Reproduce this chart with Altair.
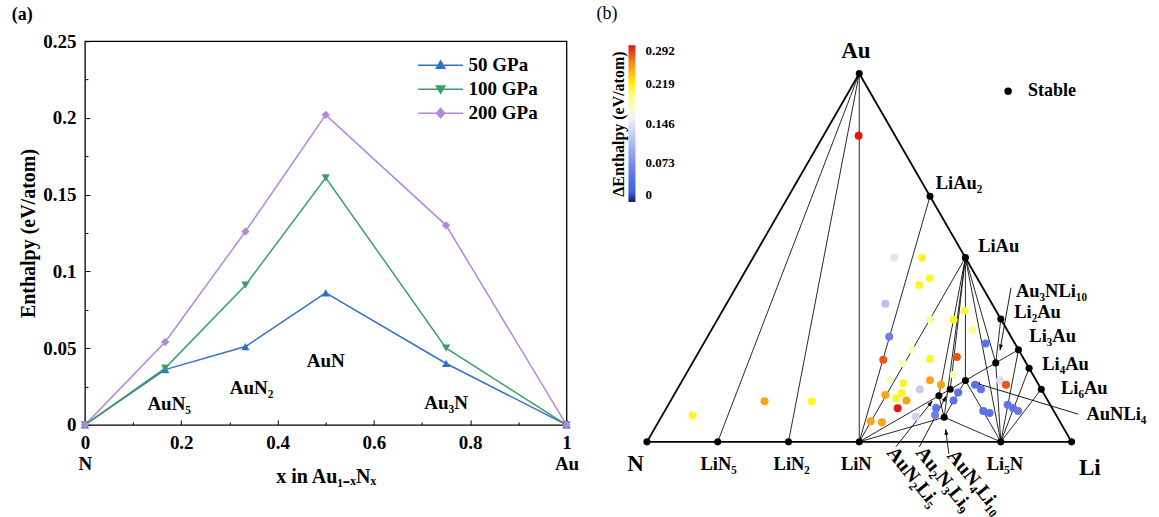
import math
import altair as alt
import pandas as pd

FONT = "Liberation Serif"

# ======================= panel (a) data =======================
comp_x = [0.0, 1 / 6, 1 / 3, 0.5, 0.75, 1.0]
h_50 = [0.0, 0.036, 0.051, 0.086, 0.040, 0.0]
h_100 = [0.0, 0.037, 0.091, 0.161, 0.050, 0.0]
h_200 = [0.0, 0.054, 0.126, 0.202, 0.130, 0.0]
series_names = ["\u200750 GPa", "100 GPa", "200 GPa"]
series_colors = ["#3470c8", "#3c9e6c", "#b487dd"]
series_shapes = ["triangle-up", "triangle-down", "diamond"]
legend_paths = [
    "M-2.25,0L2.25,0M0,-0.42L0.42,0.32L-0.42,0.32Z",
    "M-2.25,0L2.25,0M0,0.42L0.42,-0.32L-0.42,-0.32Z",
    "M-2.25,0L2.25,0M0,-0.48L0.4,0L0,0.48L-0.4,0Z",
]
phase_a_names = ["AuN₅", "AuN₂", "AuN", "Au₃N"]
phase_a_x = [0.175, 0.346, 0.50, 0.75]
phase_a_y = [0.0135, 0.0243, 0.0417, 0.0145]
x_ticks = [0, 0.2, 0.4, 0.6, 0.8, 1]
x_minor = [0.1, 0.3, 0.5, 0.7, 0.9]
y_ticks = [0, 0.05, 0.1, 0.15, 0.2, 0.25]
y_minor = [0.025, 0.075, 0.125, 0.175, 0.225]

# ======================= panel (b) data =======================
# stable phases: atoms of Au, N, Li
st_names = ["Au", "N", "Li", "LiN5", "LiN2", "LiN", "Li5N", "LiAu2", "LiAu",
            "Li2Au", "Li3Au", "Li4Au", "Li6Au", "Au3NLi10", "AuNLi4",
            "AuN2Li5", "Au2N3Li9", "AuN4Li10"]
st_au = [1, 0, 0, 0, 0, 0, 0, 2, 1, 1, 1, 1, 1, 3, 1, 1, 2, 1]
st_n = [0, 1, 0, 5, 2, 1, 1, 0, 0, 0, 0, 0, 0, 1, 1, 2, 3, 4]
st_li = [0, 0, 1, 1, 1, 1, 5, 1, 1, 2, 3, 4, 6, 10, 4, 5, 9, 10]

edges = [("N", "Li"), ("N", "Au"), ("Au", "Li")]
ties = [("Au", "LiN5"), ("Au", "LiN2"), ("Au", "LiN"),
        ("LiN", "LiAu2"), ("LiN", "LiAu"), ("LiN", "Li3Au"), ("LiN", "AuN4Li10"),
        ("LiAu", "AuN2Li5"), ("LiAu", "Au2N3Li9"), ("LiAu", "AuN4Li10"),
        ("LiAu", "AuNLi4"), ("LiAu", "Au3NLi10"), ("LiAu", "Li5N"),
        ("Li2Au", "Au3NLi10"), ("AuN2Li5", "AuN4Li10"), ("AuN4Li10", "AuNLi4"),
        ("AuN4Li10", "Li5N"), ("AuNLi4", "Li5N"), ("Au3NLi10", "Li5N"),
        ("Li3Au", "Li5N"), ("Li4Au", "Li5N"), ("Li6Au", "Li5N")]

# metastable structures: Au fraction, Li fraction, formation enthalpy above hull
sc_au = [0.500, 0.500, 0.444, 0.426, 0.375, 0.356, 0.332, 0.332, 0.304, 0.285,
         0.267, 0.250, 0.223, 0.225, 0.230, 0.214, 0.182, 0.159, 0.167, 0.155,
         0.143, 0.132, 0.127, 0.118, 0.112, 0.091, 0.068, 0.056, 0.053, 0.134,
         0.112, 0.092, 0.073, 0.155, 0.143, 0.167, 0.155, 0.084, 0.078, 0.101,
         0.092, 0.084, 0.169, 0.0714, 0.110, 0.110, 0.831]
sc_li = [0.332, 0.398, 0.444, 0.428, 0.374, 0.570, 0.501, 0.556, 0.615, 0.428,
         0.664, 0.499, 0.445, 0.554, 0.615, 0.495, 0.632, 0.524, 0.583, 0.615,
         0.571, 0.534, 0.498, 0.528, 0.555, 0.545, 0.599, 0.499, 0.527, 0.666,
         0.666, 0.635, 0.642, 0.695, 0.715, 0.748, 0.768, 0.750, 0.768, 0.799,
         0.816, 0.832, 0.488, 0.072, 0.222, 0.333, 0.083]
sc_dh = [0.145, 0.215, 0.215, 0.215, 0.115, 0.212, 0.19, 0.212, 0.195, 0.06,
         0.05, 0.178, 0.275, 0.215, 0.275, 0.18, 0.18, 0.215, 0.25, 0.25,
         0.125, 0.215, 0.25, 0.215, 0.25, 0.29, 0.13, 0.25, 0.25, 0.045,
         0.045, 0.05, 0.06, 0.045, 0.05, 0.14, 0.275, 0.045, 0.045, 0.05,
         0.05, 0.055, 0.18, 0.215, 0.25, 0.215, 0.29]

cb_domain = [0, 0.006, 0.05, 0.146, 0.165, 0.2, 0.222, 0.26, 0.292]
cb_range = ["#141a6e", "#3f58e0", "#5f74e6", "#e4e4f5", "#fbfbf4", "#fff97a",
            "#fff200", "#f58a1c", "#e3120f"]
cb_ticks = [0, 0.073, 0.146, 0.219, 0.292]

# labels (ternary-plane coordinates X along N->Li, Y = Au fraction)
right_lbl = ["LiAu₂", "LiAu", "Au₃NLi₁₀", "Li₂Au", "Li₃Au", "Li₄Au", "Li₆Au", "AuNLi₄"]
right_X = [0.680, 0.780, 0.869, 0.865, 0.9005, 0.931, 0.975, 1.035]
right_Y = [0.702, 0.531, 0.4095, 0.353, 0.2875, 0.212, 0.147, 0.075]
bot_lbl = ["LiN₅", "LiN₂", "LiN", "Li₅N"]
bot_X = [0.169, 0.341, 0.493, 0.843]
bot_Y = [-0.0605, -0.0605, -0.0605, -0.0605]
vtx_lbl = ["Au", "N", "Li"]
vtx_X = [0.492, -0.027, 1.043]
vtx_Y = [1.060, -0.0605, -0.070]
rot_lbl = ["AuN₂Li₅", "Au₂N₃Li₉", "AuN₄Li₁₀"]
rot_X = [0.574, 0.642, 0.716]
rot_Y = [-0.020, -0.020, -0.028]
arr_tail_X = [0.586, 0.6415, 0.711, 1.0158, 0.8574]
arr_tail_Y = [-0.0136, -0.0136, -0.0325, 0.0751, 0.4185]
arr_tip_X = [0.6724, 0.705, 0.7035, 0.7704, 0.8315]
arr_tip_Y = [0.1112, 0.1248, 0.0344, 0.1608, 0.2487]

# ======================= layout constants =======================
W_A, H_A = 482, 384
PX_X, PX_Y = 425.0, 368.7             # pixels per unit of the ternary plane
B_LEFT, B_TOP, B_RIGHT, B_BOTTOM = 595, 40, 1157, 517
N_PX, BASE_PY = 645.5, 441.0
W_B, H_B = B_RIGHT - B_LEFT, B_BOTTOM - B_TOP
XMIN = (B_LEFT - N_PX) / PX_X
XMAX = (B_RIGHT - N_PX) / PX_X
YMAX = (BASE_PY - B_TOP) / PX_Y
YMIN = (BASE_PY - B_BOTTOM) / PX_Y


def lab(size):
    return dict(labelFont=FONT, labelFontSize=size, labelFontWeight="bold",
                labelColor="black", labelFlush=False)


# ======================= panel (a) chart =======================
df_a = pd.DataFrame({
    "x": comp_x * 3,
    "h": h_50 + h_100 + h_200,
    "series": [s for s in series_names for _ in comp_x],
})
xs_a = alt.Scale(domain=[0, 1], nice=False, zero=False)
ys_a = alt.Scale(domain=[0, 0.25], nice=False, zero=False)

x_main = alt.Axis(values=x_ticks, format="~g", ticks=False, domain=False, grid=False,
                  labelPadding=9, title="x in Au₁₋ₓNₓ", titleFont=FONT, titleFontSize=20,
                  titleFontWeight="bold", titleColor="black", titlePadding=14,
                  orient="bottom", labelOverlap=False, **lab(19))
y_main = alt.Axis(values=y_ticks, format="~g", ticks=False, domain=False, grid=False,
                  labelPadding=9, title="Enthalpy (eV/atom)", titleFont=FONT,
                  titleFontSize=20, titleFontWeight="bold", titleColor="black",
                  titlePadding=4, orient="left", labelOverlap=False, **lab(19))


def tick_axis(vals, size, orient):
    return alt.Axis(values=vals, orient=orient, ticks=True, tickSize=size,
                    tickColor="black", tickWidth=1, offset=-size, labels=False,
                    domain=False, grid=False, title=None)


end_axis = alt.Axis(values=[0, 1], labelExpr="datum.value == 0 ? 'N' : 'Au'",
                    ticks=False, domain=False, grid=False, labelPadding=30,
                    title=None, orient="bottom", **lab(19))

base_a = alt.Chart(df_a)
lines_a = base_a.mark_line(strokeWidth=1.5).encode(
    x=alt.X("x:Q", scale=xs_a, axis=x_main),
    y=alt.Y("h:Q", scale=ys_a, axis=y_main),
    color=alt.Color("series:N", scale=alt.Scale(domain=series_names, range=series_colors),
                    legend=None),
)
points_a = base_a.mark_point(filled=True, size=70, opacity=1).encode(
    x=alt.X("x:Q", scale=xs_a, axis=None),
    y=alt.Y("h:Q", scale=ys_a, axis=None),
    color=alt.Color("series:N", scale=alt.Scale(domain=series_names, range=series_colors),
                    legend=None),
    shape=alt.Shape("series:N", scale=alt.Scale(domain=series_names, range=series_shapes),
                    legend=None),
)
leg_a = alt.Legend(title=None, orient="none", legendX=345, legendY=13, symbolSize=400,
                   symbolStrokeWidth=1.5, symbolOpacity=1, labelOffset=17, rowPadding=3,
                   padding=0, labelFont=FONT, labelFontSize=19, labelFontWeight="bold",
                   labelColor="black")
carrier_a = base_a.mark_point(filled=True, opacity=0, strokeWidth=1.5).encode(
    x=alt.X("x:Q", scale=xs_a, axis=None),
    y=alt.Y("h:Q", scale=ys_a, axis=None),
    color=alt.Color("series:N", scale=alt.Scale(domain=series_names, range=series_colors),
                    legend=leg_a),
    shape=alt.Shape("series:N", scale=alt.Scale(domain=series_names, range=legend_paths),
                    legend=leg_a),
    stroke=alt.Stroke("series:N", scale=alt.Scale(domain=series_names, range=series_colors),
                      legend=leg_a),
)
df_a_lbl = pd.DataFrame({"name": phase_a_names, "x": phase_a_x, "y": phase_a_y})
text_a = alt.Chart(df_a_lbl).mark_text(font=FONT, fontSize=19, fontWeight="bold",
                                        color="black").encode(
    x=alt.X("x:Q", scale=xs_a, axis=None),
    y=alt.Y("y:Q", scale=ys_a, axis=None),
    text="name:N",
)
ghost = base_a.mark_point(opacity=0)
tx_major = ghost.encode(x=alt.X("x:Q", scale=xs_a, axis=tick_axis(x_ticks, 5, "bottom")),
                        y=alt.Y("h:Q", scale=ys_a, axis=None))
tx_minor = ghost.encode(x=alt.X("x:Q", scale=xs_a, axis=tick_axis(x_minor, 3, "bottom")),
                        y=alt.Y("h:Q", scale=ys_a, axis=None))
tx_end = ghost.encode(x=alt.X("x:Q", scale=xs_a, axis=end_axis),
                      y=alt.Y("h:Q", scale=ys_a, axis=None))
ty_major = ghost.encode(y=alt.Y("h:Q", scale=ys_a, axis=tick_axis(y_ticks, 5, "left")),
                        x=alt.X("x:Q", scale=xs_a, axis=None))
ty_minor = ghost.encode(y=alt.Y("h:Q", scale=ys_a, axis=tick_axis(y_minor, 3, "left")),
                        x=alt.X("x:Q", scale=xs_a, axis=None))

panel_a = alt.layer(
    lines_a, tx_major, tx_minor, tx_end, ty_major, ty_minor, points_a, text_a, carrier_a
).resolve_axis(x="independent", y="independent").resolve_scale(
    color="independent", shape="independent", stroke="independent"
).properties(
    width=W_A, height=H_A,
    view=alt.ViewBackground(stroke="black", strokeWidth=1.3),
    title=alt.TitleParams("(a)", anchor="start", frame="bounds", font=FONT, fontSize=18,
                          fontWeight="bold", color="black", offset=8, dx=-7),
)

# ======================= panel (b) chart =======================
def tern(au, n, li):
    t = au + n + li
    a, l = au / t, li / t
    return l + a / 2, a


pos = {nm: tern(a, n, l) for nm, a, n, l in zip(st_names, st_au, st_n, st_li)}


def seg_df(pairs):
    return pd.DataFrame({
        "x": [pos[p][0] for p, q in pairs], "y": [pos[p][1] for p, q in pairs],
        "x2": [pos[q][0] for p, q in pairs], "y2": [pos[q][1] for p, q in pairs],
    })


xs_b = alt.Scale(domain=[XMIN, XMAX], nice=False, zero=False)
ys_b = alt.Scale(domain=[YMIN, YMAX], nice=False, zero=False)
X = lambda f: alt.X(f, type="quantitative", scale=xs_b, axis=None)
Y = lambda f: alt.Y(f, type="quantitative", scale=ys_b, axis=None)

edge_layer = alt.Chart(seg_df(edges)).mark_rule(color="black", strokeWidth=1.8).encode(
    x=X("x"), y=Y("y"), x2="x2", y2="y2")
tie_layer = alt.Chart(seg_df(ties)).mark_rule(color="#111111", strokeWidth=0.9).encode(
    x=X("x"), y=Y("y"), x2="x2", y2="y2")

df_arr = pd.DataFrame({"x": arr_tail_X, "y": arr_tail_Y, "x2": arr_tip_X, "y2": arr_tip_Y})
df_arr["ang"] = [
    math.degrees(math.atan2((x2 - x1) * PX_X, (y2 - y1) * PX_Y)) % 360
    for x1, y1, x2, y2 in zip(arr_tail_X, arr_tail_Y, arr_tip_X, arr_tip_Y)
]
arrow_lines = alt.Chart(df_arr).mark_rule(color="black", strokeWidth=0.9).encode(
    x=X("x"), y=Y("y"), x2="x2", y2="y2")
arrow_heads = alt.Chart(df_arr).mark_point(
    shape="M0,0L-0.8,2.3L0.8,2.3Z", filled=True, color="black", size=25, opacity=1
).encode(x=X("x2"), y=Y("y2"), angle=alt.Angle("ang:Q", scale=None))

df_sc = pd.DataFrame({"au": sc_au, "li": sc_li, "dh": sc_dh})
df_sc["X"] = df_sc["li"] + df_sc["au"] / 2
df_sc["Y"] = df_sc["au"]
# legends of panel (b) are placed in root-group coordinates
cb_legend = alt.Legend(
    title="ΔEnthalpy (eV/atom)", orient="none", legendX=527, legendY=4,
    direction="vertical", gradientLength=157, gradientThickness=7, gradientStrokeWidth=0,
    titleOrient="left", titleAnchor="middle", titlePadding=0, values=cb_ticks,
    format=".3~f", labelFont=FONT, labelFontSize=13, labelFontWeight="bold",
    labelColor="black", labelOffset=10, labelBaseline="middle", labelOverlap=False,
    titleFont=FONT, titleFontSize=16, titleFontWeight="bold", titleColor="black",
    padding=0)
scatter_b = alt.Chart(df_sc).mark_circle(size=64, opacity=1).encode(
    x=X("X"), y=Y("Y"),
    color=alt.Color("dh:Q", scale=alt.Scale(domain=cb_domain, range=cb_range,
                                             interpolate="rgb"), legend=cb_legend),
)

df_st = pd.DataFrame({"name": st_names,
                      "X": [pos[n][0] for n in st_names],
                      "Y": [pos[n][1] for n in st_names],
                      "kind": ["Stable"] * len(st_names)})
stable_b = alt.Chart(df_st).mark_point(filled=True, color="black", size=50, opacity=1).encode(
    x=X("X"), y=Y("Y"),
    shape=alt.Shape("kind:N", scale=alt.Scale(domain=["Stable"], range=["circle"]),
                    legend=alt.Legend(title=None, orient="none", legendX=915,
                                      legendY=41,
                                      symbolSize=55, symbolFillColor="black",
                                      symbolStrokeColor="black", symbolOpacity=1,
                                      labelOffset=11, padding=0, labelFont=FONT,
                                      labelFontSize=18, labelFontWeight="bold",
                                      labelColor="black")),
)


def text_layer(names, xs, ys, size, align="center", angle=0):
    df = pd.DataFrame({"t": names, "X": xs, "Y": ys})
    kw = dict(font=FONT, fontSize=size, fontWeight="bold", color="black",
              align=align, baseline="middle")
    if angle:
        kw["angle"] = angle
    return alt.Chart(df).mark_text(**kw).encode(x=X("X"), y=Y("Y"), text="t:N")


lbl_right = text_layer(right_lbl, right_X, right_Y, 18.5, align="left")
lbl_bot = text_layer(bot_lbl, bot_X, bot_Y, 18.5)
lbl_vtx = text_layer(vtx_lbl, vtx_X, vtx_Y, 23)
lbl_rot = text_layer(rot_lbl, rot_X, rot_Y, 20, align="left", angle=51)

panel_b = alt.layer(
    tie_layer, edge_layer, arrow_lines, arrow_heads, scatter_b, stable_b,
    lbl_right, lbl_bot, lbl_vtx, lbl_rot
).properties(
    width=W_B, height=H_B,
    view=alt.ViewBackground(stroke="transparent"),
    title=alt.TitleParams("(b)", anchor="start", frame="bounds", font=FONT, fontSize=18,
                          fontWeight="normal", color="black", offset=17),
)

chart = alt.hconcat(panel_a, panel_b, spacing=16).properties(
    padding={"left": 11, "top": 4, "right": 0, "bottom": 0},
    background="white",
)
chart.save("out.html", embed_options={"renderer": "svg", "actions": False})
